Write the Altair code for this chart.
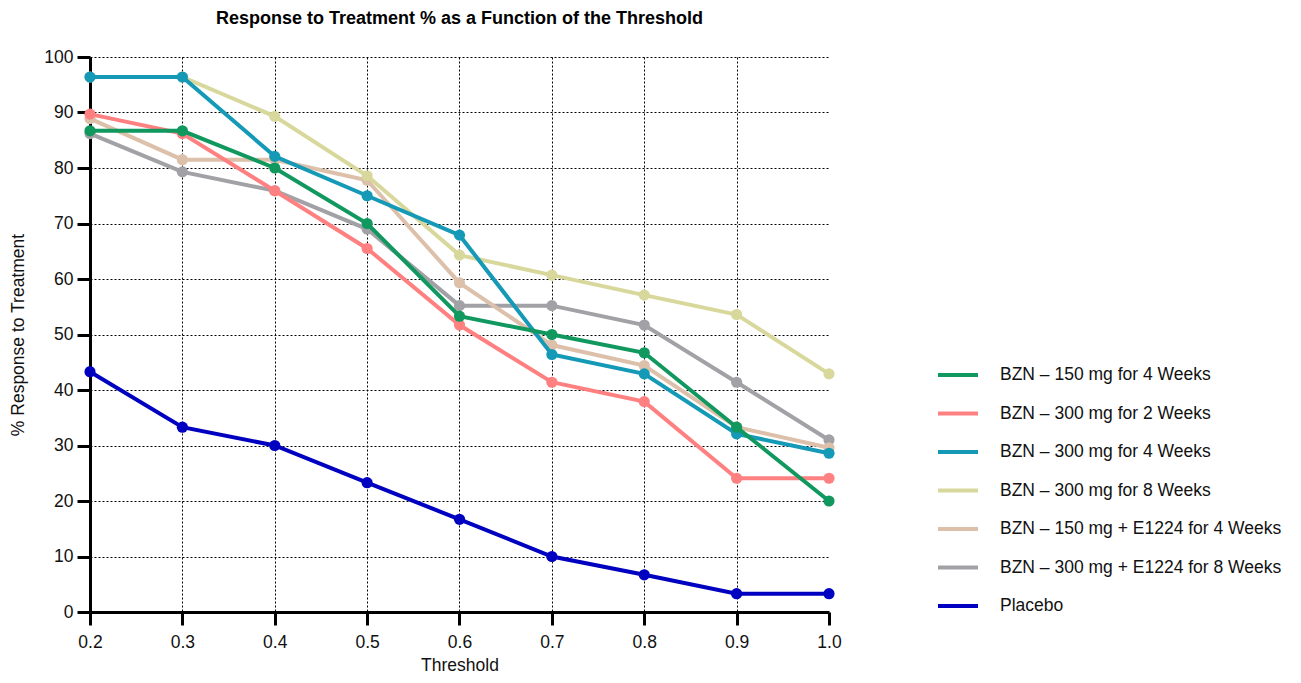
import altair as alt
import pandas as pd

thresholds = [0.2, 0.3, 0.4, 0.5, 0.6, 0.7, 0.8, 0.9, 1.0]

series_names = [
    "BZN – 150 mg for 4 Weeks",
    "BZN – 300 mg for 2 Weeks",
    "BZN – 300 mg for 4 Weeks",
    "BZN – 300 mg for 8 Weeks",
    "BZN – 150 mg + E1224 for 4 Weeks",
    "BZN – 300 mg + E1224 for 8 Weeks",
    "Placebo",
]

bzn150_4w = [86.7, 86.7, 80.0, 70.0, 53.3, 50.0, 46.7, 33.3, 20.0]
bzn300_2w = [89.7, 86.2, 75.9, 65.5, 51.7, 41.4, 37.9, 24.1, 24.1]
bzn300_4w = [96.4, 96.4, 82.1, 75.0, 67.9, 46.4, 42.9, 32.1, 28.6]
bzn300_8w = [96.4, 96.4, 89.3, 78.6, 64.3, 60.7, 57.1, 53.6, 42.9]
bzn150_e1224_4w = [88.9, 81.5, 81.5, 77.8, 59.3, 48.1, 44.4, 33.3, 29.6]
bzn300_e1224_8w = [86.2, 79.3, 75.9, 69.0, 55.2, 55.2, 51.7, 41.4, 31.0]
placebo = [43.3, 33.3, 30.0, 23.3, 16.7, 10.0, 6.7, 3.3, 3.3]

series_values = [bzn150_4w, bzn300_2w, bzn300_4w, bzn300_8w,
                 bzn150_e1224_4w, bzn300_e1224_8w, placebo]

colors = ["#10985f", "#ff8080", "#1499b6", "#d8d89c", "#dcc0aa", "#a1a1a6", "#0000c0"]

rows = []
for name, vals in zip(series_names, series_values):
    for t, v in zip(thresholds, vals):
        rows.append({"Threshold": t, "Response": v, "Series": name})
df = pd.DataFrame(rows)

FONT = "Liberation Sans"
FS = 17.5

x_enc = alt.X("Threshold:Q",
              scale=alt.Scale(domain=[0.2, 1.0], nice=False, zero=False),
              axis=alt.Axis(values=thresholds, format=".1f", title="Threshold",
                            grid=True, labelFlush=False,
                            gridOpacity={"condition": {"test": "datum.value >= 0.99", "value": 0}, "value": 1}))
y_enc = alt.Y("Response:Q",
              scale=alt.Scale(domain=[0, 100], nice=False),
              axis=alt.Axis(values=list(range(0, 101, 10)), title="% Response to Treatment",
                            grid=True, labelFlush=False))

color_scale = alt.Scale(domain=series_names, range=colors)

layers = []
draw_order = list(range(len(series_names)))[::-1]
first = True
for i in draw_order:
    name = series_names[i]
    legend = alt.Legend(title=None) if first else None
    base = alt.Chart(df).transform_filter(alt.datum.Series == name)
    line = base.mark_line(strokeWidth=4).encode(
        x=x_enc, y=y_enc, color=alt.Color("Series:N", scale=color_scale, legend=legend))
    pts = base.mark_point(filled=True, size=125, opacity=1).encode(
        x=x_enc, y=y_enc, color=alt.Color("Series:N", scale=color_scale, legend=None))
    layers += [line, pts]
    first = False

chart = alt.layer(*layers).properties(
    width=739, height=555,
    title=alt.TitleParams("Response to Treatment % as a Function of the Threshold",
                          font=FONT, fontSize=18, fontWeight="bold", color="#000",
                          anchor="middle", offset=20),
    autosize=alt.AutoSizeParams(type="none"),
    padding={"left": 82, "top": 49, "right": 460, "bottom": 62},
).configure_view(stroke=None).configure_axis(
    domainColor="#000", domainWidth=3, tickColor="#000", tickWidth=3, tickSize=13,
    labelFont=FONT, labelFontSize=FS, labelColor="#111", labelPadding=4,
    titleFont=FONT, titleFontSize=FS, titleFontWeight="normal", titleColor="#111",
    gridColor="#000", gridDash=[2, 2], gridWidth=1, gridOpacity=1,
).configure_axisX(labelPadding=8, titlePadding=6).configure_axisY(titlePadding=16).configure_legend(
    orient="none", legendX=846, legendY=296, padding=0,
    symbolType="stroke", symbolSize=1600, symbolStrokeWidth=4,
    labelFont=FONT, labelFontSize=FS, labelColor="#111", labelOffset=20,
    rowPadding=7.5, labelLimit=400,
)

chart.save("out.html", embed_options={"renderer": "svg", "actions": False})
